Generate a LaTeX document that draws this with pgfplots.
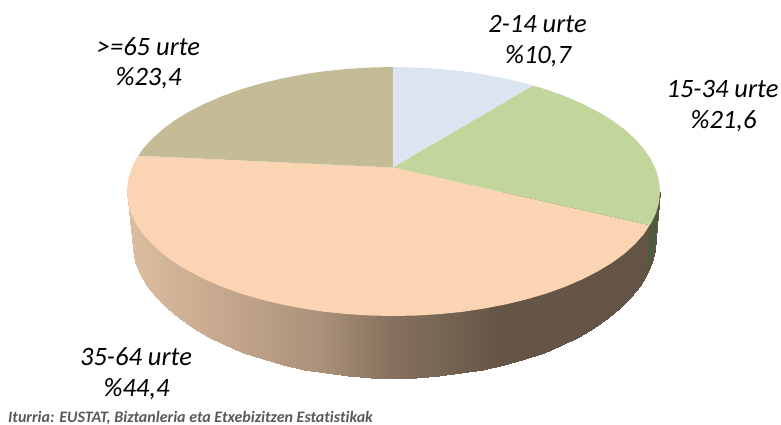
\documentclass[border=0pt]{standalone}
\usepackage{pgfplots}
\pgfplotsset{compat=1.18}
\usepackage{fontspec}
\setmainfont{Carlito}[Ligatures=NoCommon]
\definecolor{cblue}{HTML}{DBE5F1}
\definecolor{cgreen}{HTML}{C2D69B}
\definecolor{cpeach}{HTML}{FBD4B4}
\definecolor{ctan}{HTML}{C4BC96}
\definecolor{cdkgreen}{HTML}{4E5A40}
\definecolor{csrc}{HTML}{595959}
\begin{document}
\begin{tikzpicture}
\useasboundingbox (0,0) rectangle (781pt,425pt);
\begin{axis}[
  at={(0pt,0pt)},anchor=south west,
  scale only axis,width=781pt,height=425pt,
  xmin=0,xmax=781,ymin=0,ymax=425,y dir=reverse,
  hide axis,clip=false,
  colormap={side}{rgb255(0pt)=(220,190,160) rgb255(116pt)=(192,163,137) rgb255(193pt)=(170,145,122) rgb255(263pt)=(135,114,95) rgb255(373pt)=(101,85,71) rgb255(533pt)=(100,84,70)},
]
% side of the pie
\addplot[surf,shader=interp,point meta=x,mesh/rows=2,mesh/cols=39] coordinates {
(127,191.5)(131.5,191.5)(132.5,191.5)(135.5,191.5)(140.4,191.5)(147.3,191.5)(156,191.5)(166.6,191.5)(178.9,191.5)(192.8,191.5)(208.2,191.5)(225.1,191.5)(243.2,191.5)(262.5,191.5)(282.8,191.5)(303.9,191.5)(325.7,191.5)(348,191.5)(370.7,191.5)(393.5,191.5)(416.3,191.5)(439,191.5)(461.3,191.5)(483.1,191.5)(504.2,191.5)(524.5,191.5)(543.8,191.5)(561.9,191.5)(578.8,191.5)(594.2,191.5)(608.1,191.5)(620.4,191.5)(631,191.5)(639.7,191.5)(646.6,191.5)(651.5,191.5)(654.5,191.5)(655.5,191.5)(660,191.5)
(127,191.5)(131.5,238)(132.5,250.2)(135.5,262.3)(140.4,274.2)(147.3,285.9)(156,297.2)(166.6,308)(178.9,318.3)(192.8,328)(208.2,337)(225.1,345.2)(243.2,352.7)(262.5,359.2)(282.8,364.9)(303.9,369.6)(325.7,373.2)(348,375.9)(370.7,377.5)(393.5,378)(416.3,377.5)(439,375.9)(461.3,373.2)(483.1,369.6)(504.2,364.9)(524.5,359.2)(543.8,352.7)(561.9,345.2)(578.8,337)(594.2,328)(608.1,318.3)(620.4,308)(631,297.2)(639.7,285.9)(646.6,274.2)(651.5,262.3)(654.5,250.2)(655.5,238)(660,191.5)
};
% dark green sliver of the side
\addplot[fill=cdkgreen,draw=none,mark=none] coordinates {
(649.5,225.3)(650.9,223.7)(656,213.1)(659,202.4)(660,191.5)(655.5,238)(654.5,250.2)(651.5,262.3)(646.6,274.2)
} --cycle;
% top face
\addplot[fill=cpeach,draw=none,mark=none] coordinates {
(393,167.5)(649.5,225.3)(643.9,234.1)(635,244.1)(624.3,253.8)(611.8,262.9)(597.6,271.5)(581.9,279.5)(564.8,286.9)(546.4,293.5)(526.8,299.3)(506.1,304.3)(484.6,308.5)(462.5,311.8)(439.8,314.1)(416.7,315.5)(393.5,316)(370.3,315.5)(347.2,314.1)(324.5,311.8)(302.4,308.5)(280.9,304.3)(260.2,299.3)(240.6,293.5)(222.2,286.9)(205.1,279.5)(189.4,271.5)(175.2,262.9)(162.7,253.8)(152,244.1)(143.1,234.1)(136.1,223.7)(131,213.1)(128,202.4)(127,191.5)(128,180.6)(131,169.9)(136.1,159.3)(138.3,155.7)
} --cycle;
\addplot[fill=ctan,draw=none,mark=none] coordinates {
(393,167.5)(138.3,155.7)(143.1,148.9)(152,138.9)(162.7,129.2)(175.2,120.1)(189.4,111.5)(205.1,103.5)(222.2,96.1)(240.6,89.5)(260.2,83.7)(280.9,78.7)(302.4,74.5)(324.5,71.2)(347.2,68.9)(370.3,67.5)(393,67)
} --cycle;
\addplot[fill=cblue,draw=none,mark=none] coordinates {
(393,167.5)(393,67)(416.7,67.5)(439.8,68.9)(462.5,71.2)(484.6,74.5)(506.1,78.7)(526.8,83.7)(533.3,85.6)
} --cycle;
\addplot[fill=cgreen,draw=none,mark=none] coordinates {
(393,167.5)(533.3,85.6)(546.4,89.5)(564.8,96.1)(581.9,103.5)(597.6,111.5)(611.8,120.1)(624.3,129.2)(635,138.9)(643.9,148.9)(650.9,159.3)(656,169.9)(659,180.6)(660,191.5)(659,202.4)(656,213.1)(650.9,223.7)(649.5,225.3)
} --cycle;
% labels
\node[font=\fontsize{26.5}{30}\selectfont\itshape] at (axis cs:537.5,24) {2-14 urte};
\node[font=\fontsize{26.5}{30}\selectfont\itshape] at (axis cs:538,56) {\%10,7};
\node[font=\fontsize{26.5}{30}\selectfont\itshape] at (axis cs:722.5,89) {15-34 urte};
\node[font=\fontsize{26.5}{30}\selectfont\itshape] at (axis cs:723.5,121) {\%21,6};
\node[font=\fontsize{26.5}{30}\selectfont\itshape] at (axis cs:136,357) {35-64 urte};
\node[font=\fontsize{26.5}{30}\selectfont\itshape] at (axis cs:136.5,389) {\%44,4};
\node[font=\fontsize{26.5}{30}\selectfont\itshape] at (axis cs:148.5,47) {>=65 urte};
\node[font=\fontsize{26.5}{30}\selectfont\itshape] at (axis cs:148.5,78) {\%23,4};
\node[font=\fontsize{16}{18}\selectfont\bfseries\itshape,text=csrc,anchor=west,inner sep=0pt] at (axis cs:8,418) {Iturria: EUSTAT, Biztanleria eta Etxebizitzen Estatistikak};
\end{axis}
\end{tikzpicture}
\end{document}
